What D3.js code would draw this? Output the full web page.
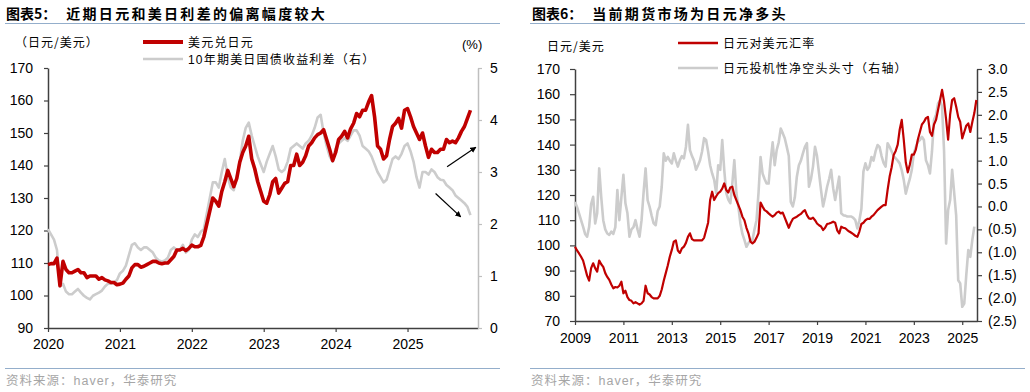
<!DOCTYPE html>
<html><head><meta charset="utf-8">
<script src="https://cdn.jsdelivr.net/npm/d3@7"></script>
<style>
body{margin:0;background:#fff;}
svg{display:block;font-family:"Liberation Sans",Arial,sans-serif;}
.cjk{font-family:"Noto Sans CJK SC","Liberation Sans",sans-serif;}
.mix{font-family:"Liberation Sans","Noto Sans CJK SC",sans-serif;}
</style></head>
<body>
<svg id="c" width="1030" height="392"></svg>
<script>
// ---------- Chart 5 data (semi-monthly from Jan 2020) ----------
const c5Start = 2020, c5Step = 1/24;
const c5UsdJpy = [
109.5,109.8,109.8,111.5,103,110.5,108,107,107,107.5,108,107,107,105.5,106,106,106,105,105.5,104.8,104.5,104,104,103.3,
103.5,103.8,105,106,108.5,109.5,109.5,108.7,109,109.5,110,110.5,110.5,110,109.8,110,110,111,112,114,114,114.5,113.8,114.5,
115.5,115,115,115.4,118,122,126,130,129,127.5,132,135,138.5,136,133.5,136,141,144,146,149,142,139,135,132,
129,128.4,131,135,136,131.5,133,134.5,135,140,140,143.5,140,141,143,146,147,148.5,149.5,150,151,148,145,141.5,
144,148,149,150.5,148.5,151.3,153,156,155,157,157,159.5,161.5,155,146,145,142,143,148,152,153,154.5,151.5,157,
157.5,155,152,150,148,150,146,142.5,145,144,144,145,145,148,147,147.5,147,148.5,150.5,152,154.5,157];
const c5Spread = [
1.9,1.8,1.7,1.5,0.8,0.85,0.7,0.65,0.65,0.7,0.75,0.68,0.62,0.58,0.55,0.62,0.65,0.68,0.72,0.8,0.85,0.85,0.88,0.92,
1.05,1.1,1.2,1.4,1.6,1.63,1.55,1.5,1.55,1.55,1.5,1.45,1.35,1.3,1.28,1.3,1.35,1.5,1.55,1.5,1.5,1.6,1.45,1.5,
1.7,1.8,1.75,1.85,1.9,2.2,2.5,2.8,2.8,2.7,3.0,3.25,2.9,2.7,2.65,2.9,3.2,3.6,3.85,3.95,3.7,3.5,3.3,3.15,
3.0,3.2,3.35,3.5,3.3,3.05,3.0,3.05,3.2,3.45,3.5,3.55,3.5,3.45,3.55,3.6,3.7,3.85,4.05,4.1,3.75,3.5,3.3,3.2,
3.45,3.55,3.6,3.65,3.6,3.7,3.8,3.8,3.7,3.5,3.45,3.4,3.3,3.15,3.0,2.9,2.8,2.85,3.05,3.25,3.3,3.25,3.35,3.5,
3.55,3.4,3.2,2.9,2.7,3.0,3.0,2.95,3.05,3.0,2.9,2.85,2.84,2.75,2.7,2.65,2.55,2.5,2.45,2.4,2.33,2.17];
const c5XTicks = [2020,2021,2022,2023,2024,2025];
const c5YTicks = [90,100,110,120,130,140,150,160,170];
const c5Y2Ticks = [0,1,2,3,4,5];
// annotation arrows, in data units [year, left-axis value]
const c5Arrows = [[[2025.55,139.6],[2025.95,145.6]],[[2025.39,131.4],[2025.74,124.2]]];

// ---------- Chart 6 data (monthly, from 2009) ----------
const c6Start = 2009, c6Step = 1/12;
const c6UsdJpy = [
99.5,98,96.8,95.5,94,91,88,86,91,92.9,91,89.6,
94,92.5,91.5,89,87.5,86.3,84.5,83,83.5,83.3,84,85.6,
81,82,79.5,78.3,78,77,77.5,77,76.5,77,78,84,
81,80.5,79.5,79,79,79,80,82.5,86,89,92,95.5,
98.2,101.5,102,98,97,98.8,99.5,101,103.4,104.8,102.5,102,
102,102,102,102,103,106,109,118,121.3,118,119.5,120.7,
121.3,122.5,124.6,122,121,123,123.3,120,118,116,114,111.4,
110,107,104.8,101.5,100.8,101.5,103,104.8,117,115.4,114,113.5,
112.7,112,111.4,112,113,113.4,112.7,113,111,109,107,109,
110.5,111,111.4,112,112.5,113.4,114,112,110.7,110.5,111,110,
108.7,108,107.5,106.1,107,108.5,108.7,109,109.4,109,106,104.8,
107.4,107,106.8,106.1,105.5,105,104.5,103.8,103.4,105.5,108.5,109,
110,110.5,110.5,111.4,112,113,114,114.7,115.4,116,116,122,
127.3,131,135.9,137.5,140,146,149.8,142,133,129,132,136,
136,138,142,145,148,149,150.5,151,145,143.5,148,149.8,
153.7,157.7,161.7,157,150,142,152,157.7,158.4,155,151,149,
142.5,145,147.5,148.4,145,149,152.5,157.7];
const c6NetShort = [
0.10,-0.01,-0.15,-0.3,-0.44,-0.6,-0.66,-0.45,0.05,0.21,-0.37,-0.15,
0.83,0.21,-0.3,-0.5,-0.59,-0.62,-0.55,-0.6,-0.45,0.36,-0.3,0.2,
0.69,0.07,-0.15,-0.66,-0.5,-0.45,-0.3,-0.5,-0.66,-0.3,0.3,0.83,
0.14,-0.01,-0.2,-0.37,-0.41,-0.1,0.0,0.43,1.16,1.0,1.08,1.0,
0.94,1.16,1.0,0.87,1.01,1.1,1.05,1.3,1.78,1.23,1.1,1.0,
0.8,0.9,1.01,1.2,1.49,1.45,1.2,0.9,0.72,0.58,0.29,0.9,
0.8,1.45,0.8,0.29,0.15,0.07,0.5,1.01,0.3,0.0,-0.37,-0.6,
-0.73,-0.88,-0.8,-0.73,-0.73,-0.5,-0.3,0.3,1.08,0.72,0.6,0.5,
0.5,1.0,1.4,0.9,1.23,1.4,1.7,1.6,1.49,1.3,1.1,0.1,
0.0,0.2,0.65,0.9,1.0,1.16,1.3,1.38,0.43,0.6,0.87,1.3,
1.1,0.72,0.35,0.0,0.2,0.43,0.6,0.8,0.4,0.14,0.4,0.65,
-0.15,-0.19,-0.2,-0.22,-0.22,-0.22,-0.25,-0.3,-0.48,-0.3,-0.05,0.76,
0.94,0.8,0.87,1.08,1.0,1.2,1.34,1.3,1.1,0.95,0.87,1.38,
1.3,1.2,1.1,1.05,1.0,0.94,0.79,0.58,0.28,0.45,0.6,0.8,
1.16,1.3,1.41,1.45,1.52,1.45,1.01,0.9,0.72,1.2,1.89,2.0,
2.25,2.32,2.18,1.2,-0.81,-0.08,0.14,0.8,0.3,-0.2,-1.61,-1.68,
-2.19,-2.12,-1.5,-0.95,-1.1,-0.73,-0.44];
const c6XTicks = [2009,2011,2013,2015,2017,2019,2021,2023,2025];
const c6YTicks = [70,80,90,100,110,120,130,140,150,160,170];
const c6Y2Ticks = [-2.5,-2,-1.5,-1,-0.5,0,0.5,1,1.5,2,2.5,3];

// ---------- styles ----------
const RED = "#c00000", GRAY = "#cccccc", AX = "#404040", RULE = "#94aecb";

const svg = d3.select("#c");
const defs = svg.append("defs");
defs.append("marker").attr("id","ah").attr("viewBox","0 0 10 10").attr("refX",9).attr("refY",5)
  .attr("markerWidth",5).attr("markerHeight",5).attr("orient","auto")
  .append("path").attr("d","M0,0L10,5L0,10z").attr("fill","#000");

function title(x, num, text){
  const t = svg.append("text").attr("x",x).attr("y",19).attr("font-size",14).attr("font-weight","bold")
    .attr("class","cjk").attr("fill","#000");
  t.append("tspan").text("图表"+num+"：");
  t.append("tspan").attr("dx",10).attr("letter-spacing",2.3).text(text);
}
function frame(x1,x2){
  svg.append("line").attr("x1",x1).attr("x2",x2).attr("y1",23.5).attr("y2",23.5).attr("stroke",RULE).attr("stroke-width",1.2);
  svg.append("line").attr("x1",x1).attr("x2",x2).attr("y1",368.5).attr("y2",368.5).attr("stroke",RULE).attr("stroke-width",1.2);
  svg.append("text").attr("x",x1+1).attr("y",385).attr("class","mix").attr("font-size",12.5).attr("fill","#a6a6a6")
    .attr("letter-spacing",1).text("资料来源：haver，华泰研究");
}
function styleAxis(g, color, fs){
  g.select(".domain").attr("stroke",color).attr("stroke-width",1.5);
  g.selectAll(".tick line").attr("stroke",color).attr("stroke-width",1.2);
  g.selectAll(".tick text").attr("fill","#000").attr("font-size",fs).attr("font-family","'Liberation Sans',Arial,sans-serif");
}
function legendItem(x, y, color, w, label){
  svg.append("line").attr("x1",x).attr("x2",x+40).attr("y1",y).attr("y2",y).attr("stroke",color).attr("stroke-width",w);
  svg.append("text").attr("x",x+45).attr("y",y+4.5).attr("class","mix").attr("font-size",12).attr("letter-spacing",1.2)
    .attr("fill","#000").text(label);
}

// ================= Chart 5 =================
title(6, "5", "近期日元和美日利差的偏离幅度较大");
frame(5, 500);
{
  const x = d3.scaleLinear().domain([2020, 2025.98]).range([48, 478]);
  const y = d3.scaleLinear().domain([90,170]).range([328,68]);
  const y2 = d3.scaleLinear().domain([0,5]).range([328,68]);

  const gx = svg.append("g").attr("transform","translate(0,328)")
    .call(d3.axisBottom(x).tickValues(c5XTicks).tickFormat(d3.format("d")).tickSize(4).tickPadding(7).tickSizeOuter(0));
  styleAxis(gx, AX, 14);
  const gy = svg.append("g").attr("transform","translate(48,0)")
    .call(d3.axisLeft(y).tickValues(c5YTicks).tickSize(4).tickPadding(11).tickSizeOuter(0));
  styleAxis(gy, AX, 14);
  const gy2 = svg.append("g").attr("transform","translate(478,0)")
    .call(d3.axisRight(y2).tickValues(c5Y2Ticks).tickFormat(d3.format("d")).tickSize(4).tickPadding(8).tickSizeOuter(0));
  styleAxis(gy2, "#bfbfbf", 14);

  const lineS = d3.line().x((d,i)=>x(c5Start+i*c5Step)).y(d=>y2(d));
  const lineF = d3.line().x((d,i)=>x(c5Start+i*c5Step)).y(d=>y(d));
  svg.append("path").datum(c5Spread).attr("d",lineS).attr("fill","none").attr("stroke",GRAY).attr("stroke-width",2.6).attr("stroke-linejoin","round");
  svg.append("path").datum(c5UsdJpy).attr("d",lineF).attr("fill","none").attr("stroke",RED).attr("stroke-width",3.6).attr("stroke-linejoin","round");

  c5Arrows.forEach(a=>{
    svg.append("line").attr("x1",x(a[0][0])).attr("y1",y(a[0][1])).attr("x2",x(a[1][0])).attr("y2",y(a[1][1]))
      .attr("stroke","#000").attr("stroke-width",1.2).attr("marker-end","url(#ah)");
  });

  svg.append("text").attr("x",15).attr("y",47).attr("class","cjk").attr("font-size",12).attr("letter-spacing",1).text("（日元/美元）");
  svg.append("text").attr("x",462).attr("y",49).attr("font-size",13).text("(%)");
  legendItem(143, 42, RED, 4, "美元兑日元");
  legendItem(143, 59, GRAY, 2.5, "10年期美日国债收益利差（右）");
}

// ================= Chart 6 =================
title(532, "6", "当前期货市场为日元净多头");
frame(530, 1025);
{
  const x = d3.scaleLinear().domain([2009, 2025.61]).range([575, 977]);
  const y = d3.scaleLinear().domain([70,170]).range([321,69]);
  const y2 = d3.scaleLinear().domain([-2.5,3.0]).range([321,69]);

  const gx = svg.append("g").attr("transform","translate(0,321)")
    .call(d3.axisBottom(x).tickValues(c6XTicks).tickFormat(d3.format("d")).tickSize(4).tickPadding(8).tickSizeOuter(0));
  styleAxis(gx, AX, 14);
  const gy = svg.append("g").attr("transform","translate(575,0)")
    .call(d3.axisLeft(y).tickValues(c6YTicks).tickSize(5).tickPadding(10).tickSizeOuter(0));
  styleAxis(gy, AX, 14);
  const fmt = d => d < 0 ? "(" + Math.abs(d).toFixed(1) + ")" : d.toFixed(1);
  const gy2 = svg.append("g").attr("transform","translate(977,0)")
    .call(d3.axisRight(y2).tickValues(c6Y2Ticks).tickFormat(fmt).tickSize(5).tickPadding(6).tickSizeOuter(0));
  styleAxis(gy2, AX, 14);

  const lineS = d3.line().x((d,i)=>x(c6Start+i*c6Step)).y(d=>y2(d));
  const lineF = d3.line().x((d,i)=>x(c6Start+i*c6Step)).y(d=>y(d));
  svg.append("path").datum(c6NetShort).attr("d",lineS).attr("fill","none").attr("stroke",GRAY).attr("stroke-width",2.6).attr("stroke-linejoin","round");
  svg.append("path").datum(c6UsdJpy).attr("d",lineF).attr("fill","none").attr("stroke",RED).attr("stroke-width",2.2).attr("stroke-linejoin","round");

  svg.append("text").attr("x",547).attr("y",51).attr("class","cjk").attr("font-size",12).attr("letter-spacing",1).text("日元/美元");
  legendItem(678, 43, RED, 2.5, "日元对美元汇率");
  legendItem(678, 68, GRAY, 2.5, "日元投机性净空头头寸（右轴）");
}
</script>
</body></html>
